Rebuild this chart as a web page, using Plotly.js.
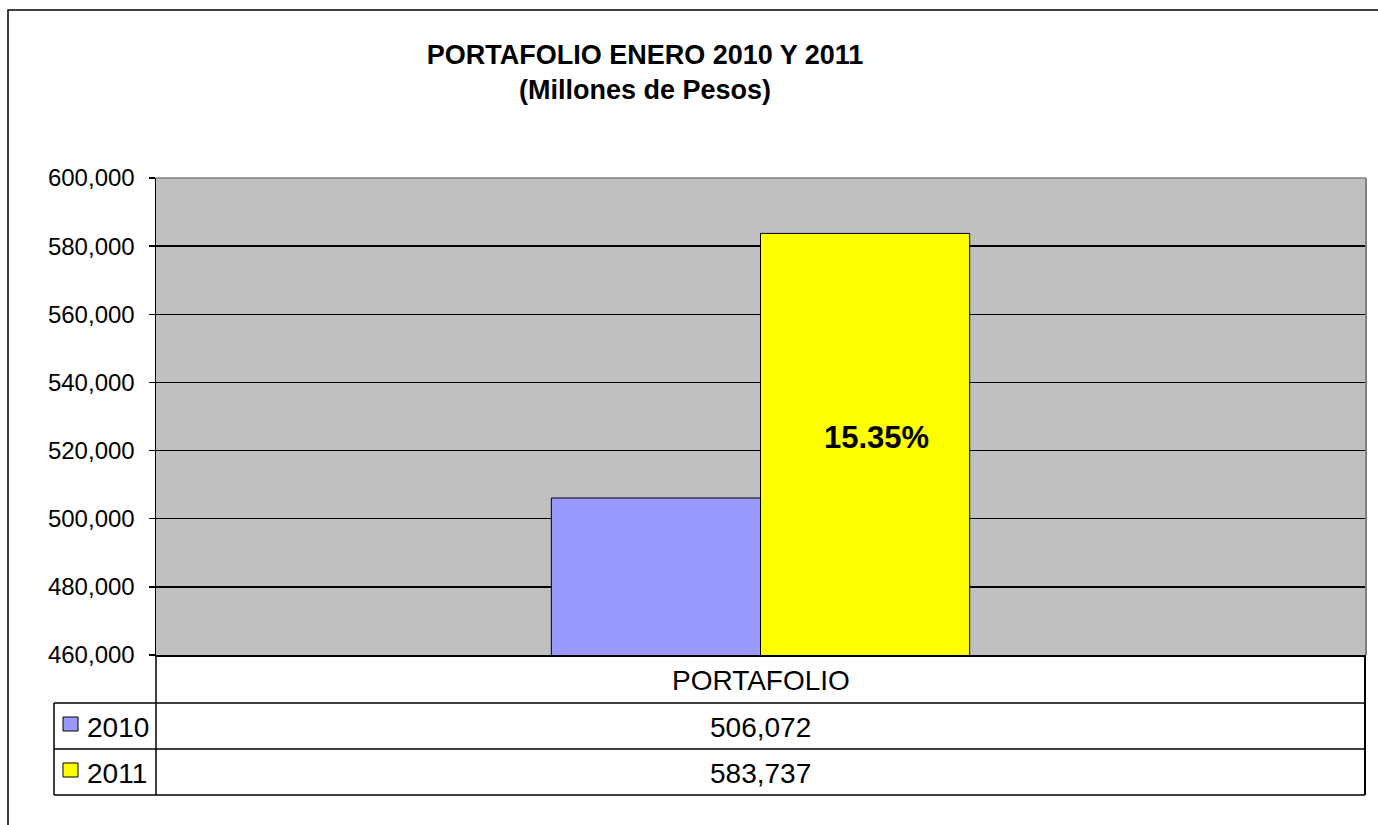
<!DOCTYPE html>
<html>
<head>
<meta charset="utf-8">
<script src="https://cdn.plot.ly/plotly-3.0.1.min.js"></script>
<style>html,body{margin:0;padding:0;background:#fff;}#chart{width:1378px;height:825px;}</style>
</head>
<body>
<div id="chart"></div>
<script>
// ---- data ----
const categories = ['PORTAFOLIO'];
const seriesNames = ['2010', '2011'];
const values2010 = [506072];
const values2011 = [583737];
const titleLines = ['PORTAFOLIO ENERO 2010 Y 2011', '(Millones de Pesos)'];
const yTickVals = [460000, 480000, 500000, 520000, 540000, 560000, 580000, 600000];

// ---- layout helpers (pixel -> paper) ----
const W = 1378, H = 825;
const L = 156, R = 1365, T = 178, B = 655;
const px = x => (x - L) / (R - L);
const py = y => (B - y) / (B - T);
const fmt = v => v.toLocaleString('en-US');
const FONT = 'Liberation Sans, Arial, sans-serif';

const growth = ((values2011[0] / values2010[0] - 1) * 100).toFixed(2) + '%';

const traces = [
  {type: 'bar', name: seriesNames[0], x: categories, y: values2010,
   marker: {color: '#9999FF', line: {color: '#000', width: 1}}, hoverinfo: 'none'},
  {type: 'bar', name: seriesNames[1], x: categories, y: values2011,
   marker: {color: '#FFFF00', line: {color: '#000', width: 1}}, hoverinfo: 'none'}
];

const colors = ['#9999FF', '#FFFF00'];

const shapes = [
  // outer chart border
  {type: 'rect', xref: 'paper', yref: 'paper', x0: px(8), x1: px(1390), y0: py(10), y1: py(840),
   line: {color: '#000', width: 1.5}, fillcolor: 'rgba(0,0,0,0)', layer: 'above'},
  // plot area border (gray top/right)
  {type: 'line', xref: 'paper', yref: 'paper', x0: px(156), x1: px(1366), y0: 1, y1: 1, line: {color: '#808080', width: 1.5}},
  {type: 'line', xref: 'paper', yref: 'paper', x0: px(1366), x1: px(1366), y0: 1, y1: py(655), line: {color: '#808080', width: 2}},
  // data table horizontal lines
  {type: 'line', xref: 'paper', yref: 'paper', x0: px(54), x1: px(1365), y0: py(703), y1: py(703), line: {color: '#000', width: 1.3}},
  {type: 'line', xref: 'paper', yref: 'paper', x0: px(54), x1: px(1365), y0: py(749), y1: py(749), line: {color: '#000', width: 1.3}},
  {type: 'line', xref: 'paper', yref: 'paper', x0: px(54), x1: px(1365), y0: py(795), y1: py(795), line: {color: '#000', width: 1.3}},
  // verticals
  {type: 'line', xref: 'paper', yref: 'paper', x0: px(54), x1: px(54), y0: py(703), y1: py(795), line: {color: '#000', width: 1.5}},
  {type: 'line', xref: 'paper', yref: 'paper', x0: px(156), x1: px(156), y0: py(655), y1: py(795), line: {color: '#000', width: 1.5}},
  {type: 'line', xref: 'paper', yref: 'paper', x0: px(1365), x1: px(1365), y0: py(655), y1: py(795), line: {color: '#000', width: 2}},
  // legend keys
  {type: 'rect', xref: 'paper', yref: 'paper', x0: px(63), x1: px(78), y0: py(717), y1: py(731),
   fillcolor: colors[0], line: {color: '#000', width: 1}},
  {type: 'rect', xref: 'paper', yref: 'paper', x0: px(63), x1: px(78), y0: py(763), y1: py(777),
   fillcolor: colors[1], line: {color: '#000', width: 1}}
];

const annotations = [
  {xref: 'paper', yref: 'paper', x: 0.5, y: py(680), text: categories[0], showarrow: false,
   xanchor: 'center', yanchor: 'middle', font: {family: FONT, size: 28, color: '#000'}},
  {xref: 'paper', yref: 'paper', x: 0.5, y: py(727), text: fmt(values2010[0]), showarrow: false,
   xanchor: 'center', yanchor: 'middle', font: {family: FONT, size: 28, color: '#000'}},
  {xref: 'paper', yref: 'paper', x: 0.5, y: py(773), text: fmt(values2011[0]), showarrow: false,
   xanchor: 'center', yanchor: 'middle', font: {family: FONT, size: 28, color: '#000'}},
  {xref: 'paper', yref: 'paper', x: px(85), y: py(727), text: seriesNames[0], showarrow: false,
   xanchor: 'left', yanchor: 'middle', font: {family: FONT, size: 28, color: '#000'}},
  {xref: 'paper', yref: 'paper', x: px(85), y: py(773), text: seriesNames[1], showarrow: false,
   xanchor: 'left', yanchor: 'middle', font: {family: FONT, size: 28, color: '#000'}},
  // growth label inside 2011 bar
  {xref: 'paper', yref: 'paper', x: px(876), y: py(437), text: '<b>' + growth + '</b>', showarrow: false,
   xanchor: 'center', yanchor: 'middle', font: {family: FONT, size: 31, color: '#000'}}
];

const layout = {
  width: W, height: H,
  margin: {l: L, r: W - R, t: T, b: H - B, pad: 0},
  paper_bgcolor: '#fff',
  plot_bgcolor: '#C0C0C0',
  showlegend: false,
  barmode: 'group',
  bargap: 0.654,
  bargroupgap: 0,
  title: {
    text: '<b>' + titleLines.join('<br>') + '</b>',
    xref: 'container', yref: 'container',
    x: 645 / W, y: 1 - 64 / H, xanchor: 'center', yanchor: 'middle',
    font: {family: FONT, size: 27, color: '#000'}
  },
  xaxis: {
    type: 'category', showticklabels: false, ticks: '', showgrid: false,
    showline: true, linecolor: '#000', linewidth: 1.5, fixedrange: true
  },
  yaxis: {
    range: [460000, 600000], tickvals: yTickVals, ticktext: yTickVals.map(fmt),
    showgrid: true, gridcolor: '#000', gridwidth: 1.3,
    showline: true, linecolor: '#000', linewidth: 1.5,
    ticks: 'outside', ticklen: 6, tickcolor: '#000', tickwidth: 1.3,
    ticklabelstandoff: 9,
    zeroline: false,
    tickfont: {family: FONT, size: 24, color: '#000'}, fixedrange: true
  },
  shapes: shapes,
  annotations: annotations
};

Plotly.newPlot('chart', traces, layout, {displayModeBar: false, staticPlot: true});
</script>
</body>
</html>
